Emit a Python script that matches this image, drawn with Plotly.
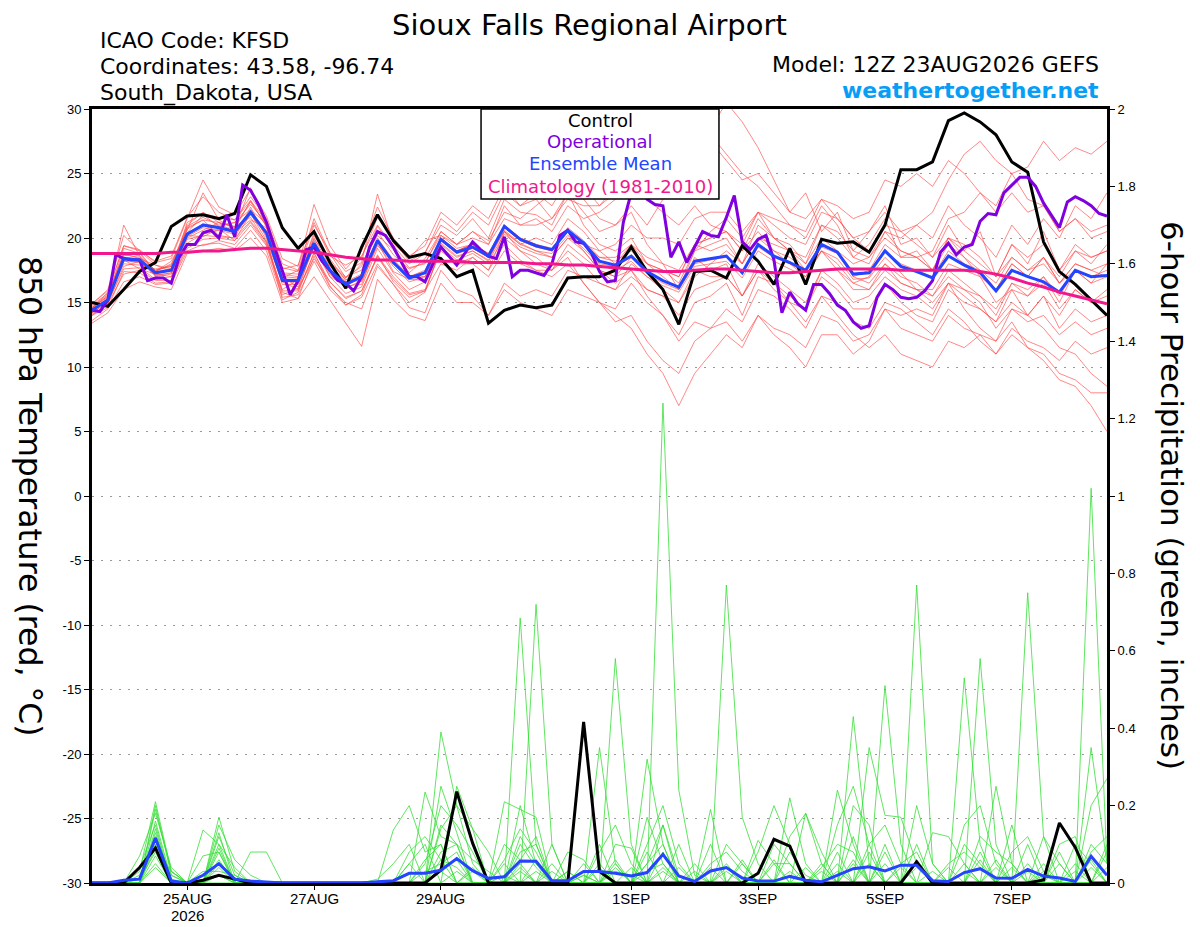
import pandas as pd
import plotly.graph_objects as go

# GEFS run 12Z 23 Aug 2026, 6-hourly out to 384 h
RUN_START = "2026-08-23 12:00"
N_STEPS = 65

DATE_TICKS = ["2026-08-25", "2026-08-27", "2026-08-29", "2026-09-01",
              "2026-09-03", "2026-09-05", "2026-09-07"]
DATE_LABELS = ["25AUG", "27AUG", "29AUG", "1SEP", "3SEP", "5SEP", "7SEP"]
YEAR_LABEL = "2026"
TEMP_TICKS = [-30, -25, -20, -15, -10, -5, 0, 5, 10, 15, 20, 25, 30]

# 850 hPa temperature (C)
control_temp = [15.0, 14.7, 16.0, 17.4, 18.1, 20.9, 21.7, 21.8, 21.5, 21.9, 24.9, 24.0, 20.8,
                19.2, 20.5, 18.1, 16.1, 19.3, 21.8, 19.8, 18.5, 18.8, 18.4, 17.0, 17.5, 13.4,
                14.4, 14.8, 14.6, 14.8, 16.9, 17.0, 17.0, 17.5, 19.3, 17.4, 16.0, 13.3, 17.4,
                17.5, 16.9, 19.4, 18.2, 16.4, 19.2, 16.4, 19.9, 19.6, 19.7, 18.9, 21.0, 25.3,
                25.3, 25.9, 29.1, 29.7, 29.0, 28.0, 25.9, 25.1, 19.7, 17.4, 16.4, 15.2, 14.0]

mean_temp = [14.4, 15.2, 18.4, 18.3, 17.3, 17.5, 20.3, 21.0, 20.8, 20.5, 22.0, 20.4, 16.7,
             16.7, 19.6, 17.5, 16.4, 17.0, 19.8, 18.1, 16.9, 17.3, 19.9, 18.9, 19.3, 18.6,
             20.9, 19.9, 19.4, 19.1, 20.6, 19.6, 18.2, 17.9, 18.6, 17.4, 16.7, 16.2, 18.2,
             18.4, 18.6, 17.3, 19.5, 18.6, 18.1, 17.5, 19.5, 18.9, 17.2, 17.3, 19.0, 17.8,
             17.4, 16.9, 18.6, 17.9, 17.3, 15.9, 17.5, 17.0, 16.6, 15.8, 17.5, 17.0, 17.1]

climo_temp = [18.8, 18.8, 18.8, 18.8, 18.8, 18.9, 18.9, 19.0, 19.0, 19.1, 19.2, 19.2, 19.1,
              19.0, 18.9, 18.7, 18.5, 18.4, 18.3, 18.3, 18.2, 18.2, 18.2, 18.2, 18.1, 18.1,
              18.1, 18.1, 18.0, 18.0, 17.9, 17.9, 17.8, 17.7, 17.6, 17.5, 17.4, 17.4, 17.5,
              17.6, 17.6, 17.5, 17.4, 17.3, 17.3, 17.4, 17.5, 17.6, 17.6, 17.6, 17.6, 17.5,
              17.5, 17.5, 17.5, 17.5, 17.4, 17.2, 16.9, 16.5, 16.2, 15.8, 15.5, 15.2, 14.9]

# operational run is 3-hourly
oper_temp = [14.4, 14.3, 15.2, 18.7, 18.4, 18.3, 18.3, 16.7, 16.9, 16.9,
             16.5, 18.5, 19.5, 19.5, 20.4, 20.6, 20.0, 21.8, 20.1, 24.1,
             23.7, 22.6, 21.2, 19.3, 17.5, 15.6, 16.7, 19.1, 19.3, 18.2,
             17.5, 16.7, 16.5, 15.9, 17.0, 19.3, 20.5, 20.2, 19.3, 18.1,
             17.0, 17.0, 16.6, 18.0, 19.3, 18.6, 17.9, 18.8, 19.7, 19.1,
             18.6, 18.4, 20.1, 17.0, 17.5, 17.5, 17.3, 17.1, 18.0, 20.2,
             20.6, 19.7, 19.6, 18.8, 17.4, 16.6, 16.7, 21.2, 23.5, 24.8,
             23.0, 22.6, 22.5, 18.5, 19.7, 18.1, 19.3, 20.5, 20.2, 20.1,
             21.6, 23.3, 19.7, 19.1, 19.9, 20.2, 18.3, 14.2, 15.8, 14.9,
             14.4, 16.4, 16.4, 15.7, 14.8, 14.4, 13.5, 13.0, 13.2, 15.4,
             16.4, 16.0, 15.4, 15.3, 15.4, 15.9, 16.7, 18.9, 19.6, 18.7,
             19.3, 19.5, 21.3, 21.9, 21.8, 23.5, 24.1, 24.7, 24.7, 24.0,
             22.7, 21.8, 20.8, 22.8, 23.2, 22.9, 22.5, 21.9, 21.7]

member_temps = [
    [14.9, 16.0, 20.2, 19.0, 18.2, 18.6, 21.6, 23.2, 22.0, 21.4, 23.2, 21.5,
     18.0, 17.5, 21.5, 18.8, 16.9, 18.5, 21.6, 19.8, 18.2, 18.9,
     21.0, 20.2, 21.5, 20.0, 23.0, 22.0, 21.8, 21.0, 23.5, 22.0, 20.5, 21.0,
     22.5, 21.0, 23.0, 24.5, 27.0, 28.5, 30.5, 29.0,
     27.0, 24.5, 22.0, 23.5, 20.5, 22.0, 19.0, 20.5, 22.5, 19.5, 20.0,
     18.5, 21.0, 19.0, 20.5, 17.0, 19.5, 18.0, 20.5, 17.5, 19.0, 18.5, 19.0],
    [13.6, 14.5, 16.6, 17.0, 16.4, 16.5, 19.0, 19.5, 19.6, 19.2, 20.6, 19.0,
     15.4, 15.6, 18.2, 16.0, 14.8, 15.4, 18.0, 16.4, 15.0, 15.8,
     19.2, 18.0, 18.5, 17.5, 19.5, 18.3, 17.5, 17.0, 18.0, 16.5, 15.0, 14.0,
     13.0, 11.0, 9.5, 7.0, 9.5, 11.0, 12.5, 11.5,
     14.0, 13.0, 12.5, 11.5, 14.0, 13.5, 12.0, 12.5, 14.5, 13.0, 12.5,
     12.0, 14.0, 13.0, 12.5, 11.0, 13.0, 12.0, 11.5, 10.5, 12.0, 11.0, 11.5],
    [14.6, 15.5, 21.0, 18.6, 17.5, 17.9, 21.0, 22.0, 21.2, 20.9, 22.8, 20.9,
     17.2, 17.0, 20.4, 18.0, 16.9, 17.8, 20.9, 19.2, 17.7, 18.0,
     20.5, 19.5, 20.5, 19.8, 22.0, 21.5, 22.5, 23.5, 25.0, 24.0, 22.5, 23.5,
     25.5, 27.0, 28.5, 30.0, 30.5, 28.0, 26.5, 25.0,
     24.0, 22.5, 21.0, 20.0, 22.5, 21.0, 18.5, 19.5, 21.5, 18.5, 19.0,
     17.5, 20.0, 18.5, 17.5, 16.0, 18.0, 17.0, 18.5, 16.5, 18.0, 17.5, 17.0],
    [14.2, 15.0, 17.8, 18.2, 17.1, 17.3, 19.6, 20.3, 20.6, 20.9, 21.6, 19.6,
     16.0, 16.8, 19.2, 17.0, 15.7, 16.2, 19.2, 17.3, 16.0, 16.6,
     19.6, 18.6, 19.0, 18.3, 20.6, 19.6, 19.0, 18.8, 20.2, 19.2, 17.9, 17.5,
     18.2, 17.0, 16.3, 15.8, 17.8, 18.0, 18.2, 16.9,
     19.0, 18.2, 17.6, 17.0, 19.0, 18.4, 16.8, 16.9, 18.5, 17.3, 16.0,
     15.0, 16.5, 14.5, 13.0, 12.0, 13.5, 11.5, 10.5, 9.0, 8.5, 7.0, 5.0],
    [14.0, 14.9, 17.2, 17.5, 16.7, 16.7, 19.2, 19.9, 20.0, 19.8, 21.2, 19.5,
     15.8, 15.3, 18.6, 16.2, 15.0, 14.5, 17.8, 16.4, 14.6, 14.2,
     17.5, 16.0, 15.5, 14.0, 16.0, 15.0, 14.5, 14.0, 16.0, 15.5, 15.0, 14.5,
     16.5, 15.0, 14.0, 12.5, 15.0, 15.5, 16.5, 14.0,
     17.0, 16.5, 15.5, 14.5, 17.5, 16.5, 15.0, 15.5, 17.0, 16.0, 15.5,
     14.5, 16.5, 15.5, 14.5, 13.5, 15.0, 14.0, 15.5, 13.0, 14.5, 13.5, 14.0],
    [14.9, 15.9, 19.4, 19.1, 18.1, 18.4, 21.5, 24.5, 22.4, 21.8, 23.8, 21.7,
     18.4, 17.8, 22.6, 19.4, 17.6, 19.0, 22.4, 20.0, 18.6, 19.4,
     22.0, 21.0, 22.5, 21.5, 24.0, 22.5, 23.0, 21.5, 23.5, 21.0, 19.5, 19.0,
     20.0, 18.0, 17.0, 16.0, 19.0, 19.5, 20.0, 18.0,
     21.0, 20.0, 19.0, 18.0, 21.0, 20.0, 18.5, 18.0, 20.5, 19.0, 18.5,
     17.5, 20.0, 19.5, 18.5, 17.0, 19.5, 18.5, 19.5, 17.5, 19.5, 18.5, 19.0],
    [14.1, 14.8, 18.9, 18.6, 17.0, 17.2, 20.8, 21.4, 20.2, 20.0, 22.4, 20.0,
     15.2, 15.8, 18.9, 16.3, 14.8, 15.6, 18.7, 16.6, 15.4, 15.9,
     18.0, 17.5, 18.5, 17.5, 20.5, 19.5, 20.0, 19.5, 21.5, 20.5, 19.0, 18.0,
     19.5, 18.0, 17.5, 16.5, 19.0, 20.5, 21.5, 20.0,
     22.0, 21.0, 20.0, 19.5, 22.0, 21.5, 20.0, 19.0, 21.0, 20.5, 21.0,
     20.0, 22.5, 21.0, 20.0, 18.5, 21.0, 19.5, 21.5, 20.0, 22.5, 21.5, 23.5],
    [14.5, 15.3, 18.0, 17.9, 17.6, 17.8, 20.0, 20.6, 21.2, 20.4, 21.4, 20.8,
     17.0, 16.2, 19.4, 17.8, 16.8, 16.6, 19.4, 18.3, 17.1, 17.0,
     19.8, 18.8, 19.2, 18.5, 20.8, 19.8, 19.3, 19.0, 20.5, 19.5, 18.0, 17.8,
     18.5, 17.2, 16.5, 16.0, 18.0, 18.3, 18.5, 17.2,
     19.3, 18.5, 18.0, 17.3, 19.3, 18.8, 17.0, 17.5, 19.5, 18.5, 18.5,
     19.0, 21.5, 22.0, 23.5, 22.5, 25.0, 25.5, 27.5, 26.0, 27.0, 26.5, 27.5],
    [14.8, 15.7, 18.8, 18.4, 17.9, 17.6, 20.9, 21.6, 21.0, 21.2, 22.6, 21.2,
     17.3, 17.2, 20.2, 18.1, 17.0, 17.5, 20.5, 18.7, 17.6, 18.1,
     20.2, 19.2, 19.5, 18.8, 20.5, 19.0, 18.5, 17.5, 18.5, 16.5, 15.0, 13.5,
     14.0, 12.0, 10.5, 9.5, 12.0, 13.0, 14.5, 13.5,
     16.0, 15.5, 14.5, 13.0, 15.5, 15.0, 13.5, 13.0, 15.0, 14.5, 13.5,
     12.5, 14.5, 13.5, 12.0, 11.0, 12.5, 11.5, 11.0, 9.5, 9.0, 8.0, 8.0],
    [14.6, 15.4, 19.2, 18.8, 17.4, 18.0, 20.6, 23.5, 21.4, 20.7, 22.9, 20.9,
     17.6, 17.9, 21.2, 18.6, 17.9, 18.6, 21.0, 19.4, 18.0, 18.8,
     21.5, 20.5, 22.0, 21.0, 23.5, 22.5, 23.5, 22.5, 24.5, 23.0, 21.5, 21.0,
     22.0, 19.5, 18.0, 16.0, 18.5, 17.5, 18.0, 15.5,
     17.5, 16.5, 15.0, 14.5, 17.0, 16.0, 14.5, 14.5, 16.5, 15.0, 14.0,
     13.5, 16.0, 15.0, 14.5, 13.5, 16.0, 15.5, 17.0, 15.0, 17.5, 16.5, 18.0],
    [14.2, 15.0, 17.6, 17.7, 16.8, 17.0, 19.9, 20.2, 20.1, 20.0, 21.3, 19.7,
     15.9, 15.9, 18.8, 16.6, 15.4, 15.9, 18.6, 17.0, 15.7, 16.0,
     19.0, 18.0, 18.0, 17.0, 19.0, 18.0, 17.5, 17.5, 19.5, 18.5, 17.5, 17.0,
     18.5, 17.5, 17.5, 17.0, 19.5, 20.0, 20.5, 19.0,
     21.5, 20.0, 19.5, 18.0, 20.0, 19.0, 17.0, 16.5, 18.0, 16.5, 16.0,
     15.5, 17.5, 16.5, 15.5, 14.5, 16.5, 15.5, 16.5, 14.5, 16.0, 15.0, 15.5],
    [14.4, 15.2, 18.4, 18.3, 17.3, 17.5, 20.3, 21.1, 20.9, 20.5, 22.1, 20.5,
     16.8, 16.8, 19.8, 17.6, 16.5, 17.1, 19.9, 18.2, 17.0, 17.4,
     20.0, 19.0, 19.5, 18.8, 21.0, 20.0, 19.5, 19.2, 20.8, 19.8, 18.5, 18.2,
     19.0, 18.0, 17.5, 17.0, 19.5, 20.0, 20.5, 19.5,
     22.0, 21.5, 21.0, 20.5, 23.0, 22.5, 21.5, 22.0, 24.5, 24.0, 25.0,
     24.0, 26.0, 25.0, 23.5, 22.0, 23.5, 22.0, 22.5, 20.5, 21.5, 20.5, 21.0],
    [13.4, 14.2, 16.0, 16.6, 16.2, 16.0, 18.8, 19.0, 19.2, 19.0, 20.0, 18.6,
     15.0, 15.3, 17.0, 15.2, 13.4, 11.6, 16.8, 15.2, 14.0, 13.6,
     16.5, 15.0, 15.0, 14.0, 16.5, 15.5, 16.0, 15.5, 17.5, 17.0, 16.5, 16.0,
     18.0, 17.0, 16.0, 15.0, 17.5, 17.0, 17.0, 15.5,
     18.0, 17.0, 16.0, 15.0, 17.5, 17.5, 16.5, 16.0, 18.0, 17.0, 16.5,
     15.5, 17.0, 16.0, 15.0, 13.0, 14.5, 13.5, 14.0, 12.5, 13.5, 12.5, 13.0],
    [14.5, 15.3, 18.5, 18.4, 17.4, 17.6, 20.4, 21.0, 20.9, 20.6, 22.1, 20.5,
     16.6, 16.6, 19.6, 17.5, 16.3, 17.0, 19.8, 18.0, 16.9, 17.3,
     20.0, 19.0, 19.5, 18.5, 21.0, 20.0, 19.5, 19.0, 20.5, 19.0, 17.5, 16.5,
     17.5, 16.0, 15.5, 14.0, 16.0, 16.5, 17.0, 15.5,
     17.5, 16.0, 15.0, 13.5, 15.5, 14.0, 12.5, 11.5, 12.5, 11.0, 10.5,
     10.0, 12.0, 11.5, 12.5, 12.0, 14.5, 14.0, 15.5, 14.0, 16.0, 15.0, 16.0],
    [14.3, 15.1, 18.3, 17.6, 17.2, 17.0, 20.2, 20.1, 20.7, 19.8, 21.9, 19.8,
     16.6, 16.0, 19.5, 17.0, 16.3, 16.4, 19.7, 17.4, 16.8, 16.7,
     19.8, 18.8, 19.2, 18.5, 20.8, 19.8, 19.3, 19.0, 20.5, 19.5, 18.5, 18.5,
     19.5, 18.5, 18.0, 17.5, 19.5, 19.0, 19.5, 18.0,
     20.0, 19.0, 18.5, 17.5, 19.5, 19.0, 18.0, 18.5, 20.5, 20.0, 21.0,
     22.0, 24.5, 26.5, 27.5, 26.0, 25.0, 23.0, 22.5, 20.5, 21.5, 20.0, 20.5],
    [14.7, 15.6, 18.6, 18.9, 17.4, 18.2, 20.4, 21.8, 20.9, 21.2, 22.2, 21.1,
     16.9, 17.5, 19.9, 18.4, 16.7, 18.0, 20.2, 19.1, 17.3, 18.4,
     20.5, 19.5, 20.5, 19.5, 22.5, 21.0, 21.5, 20.5, 22.5, 21.5, 22.0, 23.0,
     24.5, 23.0, 22.0, 21.0, 22.5, 21.0, 20.5, 19.0,
     20.5, 19.0, 18.0, 17.0, 19.0, 18.0, 16.5, 17.0, 19.0, 18.0, 17.5,
     17.0, 19.0, 18.0, 17.5, 16.5, 18.5, 17.5, 18.5, 16.5, 18.0, 17.5, 18.0],
    [14.4, 15.2, 18.2, 18.1, 17.1, 17.3, 20.1, 20.8, 20.6, 20.3, 21.8, 20.2,
     16.4, 16.4, 19.3, 17.2, 16.1, 16.7, 19.5, 17.8, 16.6, 17.0,
     19.5, 18.5, 19.0, 18.2, 20.3, 19.3, 18.8, 18.5, 20.0, 19.0, 17.5, 17.0,
     17.5, 15.5, 14.0, 12.0, 13.5, 13.0, 13.5, 12.0,
     14.0, 12.5, 11.5, 10.0, 12.5, 12.5, 11.0, 12.0, 14.5, 14.0, 14.5,
     14.0, 16.5, 16.0, 15.5, 14.0, 16.5, 16.0, 17.0, 15.5, 17.5, 17.0, 17.5],
    [14.6, 15.5, 18.7, 18.5, 17.5, 17.8, 20.7, 21.4, 21.2, 20.8, 23.9, 20.8,
     17.0, 16.9, 20.0, 17.8, 16.6, 17.2, 20.0, 18.3, 17.0, 17.5,
     20.0, 19.0, 19.5, 18.5, 20.5, 19.5, 19.0, 18.5, 20.0, 19.5, 19.0, 19.5,
     21.0, 20.0, 20.0, 19.5, 21.5, 22.0, 22.0, 20.5,
     22.0, 20.0, 19.0, 17.5, 19.0, 17.5, 16.0, 16.0, 17.5, 16.5, 16.0,
     16.0, 18.0, 17.5, 17.0, 16.0, 18.0, 17.0, 18.5, 17.0, 19.0, 18.0, 19.5],
    [14.5, 15.8, 19.4, 19.0, 17.9, 17.4, 21.2, 21.9, 21.6, 21.4, 22.9, 21.3,
     17.7, 17.4, 21.0, 18.9, 17.4, 18.1, 23.4, 19.6, 18.4, 19.8,
     20.2, 19.5, 20.0, 19.5, 21.5, 21.0, 21.0, 21.5, 23.0, 22.5, 22.5, 24.0,
     24.5, 25.5, 27.0, 28.0, 29.5, 27.5, 26.0, 24.5,
     25.0, 23.5, 22.0, 21.5, 23.0, 21.5, 20.0, 20.5, 22.0, 20.5, 19.5,
     18.5, 20.0, 19.0, 18.0, 17.0, 18.5, 17.5, 18.0, 16.5, 17.5, 16.5, 17.0],
    [14.0, 14.6, 17.4, 17.3, 16.5, 16.6, 19.5, 19.4, 19.8, 19.5, 21.0, 19.4,
     15.6, 16.1, 18.4, 16.6, 15.3, 15.9, 18.5, 16.8, 15.6, 15.9,
     19.3, 18.3, 18.8, 18.0, 20.0, 19.0, 18.0, 17.5, 19.0, 18.0, 16.5, 16.0,
     17.0, 16.0, 15.5, 15.0, 17.0, 18.0, 19.0, 18.0,
     20.0, 19.5, 19.0, 18.5, 21.0, 20.5, 19.0, 18.5, 20.0, 19.0, 18.5,
     17.5, 19.5, 18.5, 17.0, 15.0, 16.0, 14.0, 13.0, 11.5, 11.0, 9.5, 8.5],
]

# 6-hour precipitation (inches)
control_precip = [0, 0, 0, 0.04, 0.09, 0, 0, 0.007, 0.02, 0.01, 0, 0, 0,
                  0, 0, 0, 0, 0, 0, 0, 0, 0, 0.033, 0.236, 0.103, 0,
                  0, 0, 0, 0, 0, 0.416, 0.03, 0, 0, 0, 0, 0, 0,
                  0, 0, 0, 0.025, 0.113, 0.095, 0, 0, 0, 0, 0, 0, 0,
                  0.055, 0, 0, 0, 0, 0, 0, 0, 0.008, 0.155, 0.092, 0, 0]

mean_precip = [0, 0, 0.007, 0.01, 0.116, 0.005, 0, 0.02, 0.05, 0.01, 0.005, 0.003, 0,
               0, 0, 0, 0, 0, 0.003, 0.006, 0.025, 0.025, 0.033, 0.063, 0.032, 0.012,
               0.016, 0.057, 0.056, 0.006, 0.006, 0.03, 0.03, 0.025, 0.018, 0.027, 0.074, 0.018, 0.004,
               0.031, 0.04, 0.013, 0.005, 0.005, 0.017, 0.007, 0.003, 0.021, 0.037, 0.042, 0.031, 0.046,
               0.046, 0.006, 0.004, 0.027, 0.037, 0.013, 0.012, 0.035, 0.018, 0.013, 0.004, 0.069, 0.02]

# members: step index -> amount, other steps dry
member_precip = [
    {3: 0.03, 4: 0.21, 5: 0.03, 8: 0.17, 9: 0.03, 22: 0.39, 23: 0.2, 24: 0.05, 27: 0.12,
     28: 0.05, 33: 0.58, 34: 0.1, 36: 0.15, 40: 0.05, 44: 0.22, 45: 0.05, 48: 0.12,
     50: 0.1, 55: 0.53, 56: 0.1, 59: 0.1, 63: 0.35, 64: 0.05},
    {4: 0.2, 5: 0.02, 7: 0.137, 8: 0.1, 20: 0.05, 21: 0.1, 23: 0.25, 24: 0.14, 25: 0.08,
     27: 0.685, 28: 0.1, 30: 0.03, 32: 0.1, 35: 0.17, 36: 0.05, 39: 0.19, 41: 0.05,
     45: 0.18, 46: 0.05, 48: 0.43, 49: 0.05, 52: 0.1, 56: 0.58, 57: 0.1, 60: 0.05,
     63: 1.02, 64: 0.05},
    {3: 0.07, 4: 0.18, 5: 0.04, 8: 0.15, 9: 0.06, 10: 0.02, 19: 0.137, 20: 0.2, 21: 0.08,
     22: 0.1, 28: 0.72, 29: 0.1, 31: 0.05, 36: 1.24, 37: 0.24, 38: 0.02, 42: 0.11,
     43: 0.05, 47: 0.24, 48: 0.1, 52: 0.77, 53: 0.05, 57: 0.25, 58: 0.05, 61: 0.08, 64: 0.1},
    {4: 0.16, 5: 0.01, 8: 0.13, 21: 0.235, 22: 0.12, 23: 0.1, 26: 0.21, 27: 0.19, 28: 0.17,
     32: 0.35, 33: 0.05, 35: 0.32, 36: 0.1, 40: 0.77, 41: 0.17, 42: 0.05, 49: 0.35,
     50: 0.175, 51: 0.17, 52: 0.05, 59: 0.75, 60: 0.12, 63: 0.2, 64: 0.27},
    {3: 0.04, 4: 0.15, 7: 0.07, 8: 0.08, 10: 0.08, 11: 0.08, 22: 0.14, 23: 0.2, 24: 0.14,
     26: 0.05, 29: 0.1, 33: 0.1, 34: 0.09, 37: 0.1, 43: 0.1, 44: 0.05, 47: 0.08,
     50: 0.51, 51: 0.1, 55: 0.1, 56: 0.05, 58: 0.15, 62: 0.1, 63: 0.05},
    {4: 0.13, 8: 0.05, 18: 0.01, 19: 0.05, 20: 0.1, 22: 0.25, 23: 0.13, 27: 0.08, 28: 0.1,
     30: 0.08, 31: 0.06, 35: 0.1, 36: 0.2, 37: 0.05, 39: 0.1, 44: 0.12, 45: 0.18,
     46: 0.08, 48: 0.05, 53: 0.13, 54: 0.12, 55: 0.05, 60: 0.12, 61: 0.05},
    {3: 0.02, 4: 0.12, 5: 0.02, 8: 0.1, 9: 0.04, 21: 0.05, 22: 0.2, 23: 0.15, 24: 0.08,
     27: 0.05, 29: 0.05, 32: 0.08, 33: 0.15, 34: 0.05, 36: 0.08, 38: 0.05, 40: 0.1,
     41: 0.05, 47: 0.15, 48: 0.25, 49: 0.1, 55: 0.15, 56: 0.2, 57: 0.05, 61: 0.1, 62: 0.12},
    {4: 0.1, 8: 0.02, 20: 0.08, 21: 0.12, 22: 0.06, 23: 0.04, 26: 0.1, 27: 0.06, 28: 0.12,
     33: 0.05, 35: 0.05, 36: 0.1, 42: 0.08, 43: 0.2, 44: 0.1, 46: 0.05, 49: 0.1,
     50: 0.15, 51: 0.05, 56: 0.12, 57: 0.08, 58: 0.05, 63: 0.1, 64: 0.05},
    {4: 0.09, 5: 0.03, 8: 0.06, 22: 0.08, 23: 0.1, 24: 0.06, 25: 0.03, 27: 0.2, 28: 0.05,
     31: 0.02, 35: 0.05, 36: 0.15, 37: 0.02, 44: 0.08, 45: 0.02, 48: 0.2, 49: 0.15,
     52: 0.2, 53: 0.05, 58: 0.08, 59: 0.12, 60: 0.03},
    {3: 0.01, 4: 0.08, 8: 0.04, 21: 0.03, 22: 0.05, 23: 0.08, 26: 0.06, 27: 0.14, 28: 0.08,
     33: 0.03, 34: 0.02, 39: 0.05, 40: 0.08, 41: 0.03, 46: 0.04, 47: 0.1, 48: 0.08,
     50: 0.08, 54: 0.05, 55: 0.08, 56: 0.04, 61: 0.05, 63: 0.08, 64: 0.12},
    {4: 0.07, 7: 0.03, 8: 0.03, 9: 0.02, 22: 0.04, 23: 0.06, 27: 0.1, 28: 0.04, 32: 0.05,
     35: 0.03, 36: 0.05, 43: 0.05, 44: 0.05, 51: 0.05, 52: 0.08, 57: 0.04, 62: 0.05, 64: 0.08},
    {4: 0.05, 8: 0.02, 22: 0.03, 24: 0.04, 28: 0.03, 33: 0.04, 36: 0.04, 40: 0.03,
     45: 0.04, 49: 0.05, 56: 0.06, 59: 0.03, 63: 0.04},
    {4: 0.04, 23: 0.03, 27: 0.04, 31: 0.02, 38: 0.03, 47: 0.03, 52: 0.04, 55: 0.03, 60: 0.02},
    {4: 0.19, 5: 0.03, 8: 0.12, 9: 0.02, 22: 0.15, 23: 0.1, 26: 0.02, 29: 0.03, 34: 0.04,
     37: 0.04, 41: 0.06, 46: 0.03, 50: 0.05, 53: 0.03, 57: 0.06, 60: 0.03, 64: 0.04},
    {4: 0.11, 8: 0.08, 20: 0.05, 22: 0.06, 27: 0.03, 30: 0.03, 33: 0.06, 36: 0.03,
     39: 0.04, 44: 0.03, 48: 0.06, 51: 0.04, 55: 0.05, 58: 0.04, 62: 0.03},
    {4: 0.14, 8: 0.09, 21: 0.06, 22: 0.1, 24: 0.03, 28: 0.06, 32: 0.04, 35: 0.08,
     40: 0.04, 43: 0.06, 47: 0.05, 49: 0.08, 54: 0.04, 56: 0.08, 59: 0.05, 63: 0.06},
]

for m in member_temps:
    if len(m) != N_STEPS:
        raise ValueError("member length %d" % len(m))

times = pd.date_range(RUN_START, periods=N_STEPS, freq="6h")
times_oper = pd.date_range(RUN_START, periods=len(oper_temp), freq="3h")

RED = "rgba(255,70,70,0.8)"
GREEN = "rgb(55,222,55)"
PURPLE = "#8000e0"
BLUE = "#2444ff"
PINK = "#f0188c"
FONT = "Liberation Sans"
WIDE = "DejaVu Sans"

fig = go.Figure()

for m in member_temps:
    fig.add_trace(go.Scatter(x=times, y=m, mode="lines", line=dict(color=RED, width=0.8),
                             hoverinfo="skip", showlegend=False))

for p in member_precip:
    vals = [p.get(i, 0) for i in range(N_STEPS)]
    fig.add_trace(go.Scatter(x=times, y=vals, yaxis="y2", mode="lines",
                             line=dict(color=GREEN, width=0.8),
                             hoverinfo="skip", showlegend=False))

fig.add_trace(go.Scatter(x=times, y=control_precip, yaxis="y2", mode="lines",
                         line=dict(color="black", width=3), showlegend=False))
fig.add_trace(go.Scatter(x=times, y=mean_precip, yaxis="y2", mode="lines",
                         line=dict(color=BLUE, width=3), showlegend=False))

fig.add_trace(go.Scatter(x=times, y=control_temp, mode="lines",
                         line=dict(color="black", width=3), showlegend=False))
fig.add_trace(go.Scatter(x=times_oper, y=oper_temp, mode="lines",
                         line=dict(color=PURPLE, width=3), showlegend=False))
fig.add_trace(go.Scatter(x=times, y=mean_temp, mode="lines",
                         line=dict(color=BLUE, width=3), showlegend=False))
fig.add_trace(go.Scatter(x=times, y=climo_temp, mode="lines",
                         line=dict(color=PINK, width=3), showlegend=False))

# text around the plot
ann = [
    dict(text="Sioux Falls Regional Airport", x=0.490, y=1.108, size=29, color="black"),
    dict(text="ICAO Code: KFSD", x=0.006, y=1.089, size=22, color="black", anchor="left"),
    dict(text="Coordinates: 43.58, -96.74", x=0.006, y=1.055, size=22, color="black", anchor="left"),
    dict(text="South_Dakota, USA", x=0.006, y=1.021, size=22, color="black", anchor="left"),
    dict(text="Model: 12Z 23AUG2026 GEFS", x=0.994, y=1.058, size=22, color="black", anchor="right"),
    dict(text="<b>weathertogether.net</b>", x=0.994, y=1.024, size=22, color="#089ef5", anchor="right"),
    # legend box text
    dict(text="Control", x=0.5005, y=0.9845, size=18, color="black"),
    dict(text="Operational", x=0.5005, y=0.9574, size=18, color=PURPLE),
    dict(text="Ensemble Mean", x=0.5005, y=0.9302, size=18, color=BLUE),
    dict(text="Climatology (1981-2010)", x=0.5005, y=0.9005, size=18, color=PINK),
]
annotations = []
for a in ann:
    annotations.append(dict(text=a["text"], x=a["x"], y=a["y"], xref="paper", yref="paper",
                            xanchor=a.get("anchor", "center"), yanchor="middle", showarrow=False,
                            font=dict(family=WIDE, size=a["size"], color=a["color"])))

annotations.append(dict(text="850 hPa Temperature (red, °C)", x=-0.061, y=0.5,
                        xref="paper", yref="paper", xanchor="center", yanchor="middle",
                        textangle=90, showarrow=False,
                        font=dict(family=WIDE, size=31.5, color="black")))
annotations.append(dict(text="6-hour Precipitation (green, inches)", x=1.064, y=0.5,
                        xref="paper", yref="paper", xanchor="center", yanchor="middle",
                        textangle=90, showarrow=False,
                        font=dict(family=WIDE, size=31, color="black")))

# date labels under the axis, year under the first one
for d, lab in zip(DATE_TICKS, DATE_LABELS):
    annotations.append(dict(text=lab, x=d, y=-0.0194, xref="x", yref="paper",
                            xanchor="center", yanchor="middle", showarrow=False,
                            font=dict(family=FONT, size=15, color="black")))
annotations.append(dict(text=YEAR_LABEL, x=DATE_TICKS[0], y=-0.0426, xref="x", yref="paper",
                        xanchor="center", yanchor="middle", showarrow=False,
                        font=dict(family=FONT, size=15, color="black")))

# the page body keeps an 8px margin, so the figure is sized to sit inside it
fig.update_layout(
    width=1184, height=919,
    margin=dict(l=84, r=85, t=101, b=44, autoexpand=False),
    paper_bgcolor="white", plot_bgcolor="white",
    font=dict(family=FONT, color="black"),
    showlegend=False,
    xaxis=dict(type="date", range=[times[0], times[-1]],
               tickvals=DATE_TICKS, showticklabels=False,
               ticks="outside", ticklen=4, tickcolor="black",
               showgrid=False, zeroline=False,
               showline=True, linewidth=3, linecolor="black", mirror=True),
    yaxis=dict(range=[-30, 30], tickvals=TEMP_TICKS, ticktext=[str(t) for t in TEMP_TICKS],
               ticks="outside", ticklen=5, tickcolor="black", tickfont=dict(size=13),
               showgrid=True, gridcolor="#999999", griddash="2px,7px", gridwidth=1,
               zeroline=False, showline=True, linewidth=3, linecolor="black"),
    yaxis2=dict(range=[0, 2], dtick=0.2, overlaying="y", side="right",
                ticks="outside", ticklen=5, tickcolor="black", tickfont=dict(size=13),
                showgrid=False, zeroline=False,
                showline=True, linewidth=3, linecolor="black"),
    shapes=[dict(type="rect", xref="paper", yref="paper", x0=0.3833, x1=0.6177,
                 y0=0.8837, y1=1.0, layer="above", fillcolor="white",
                 line=dict(color="black", width=1.5))],
    annotations=annotations,
)

fig.write_html("out.html")
